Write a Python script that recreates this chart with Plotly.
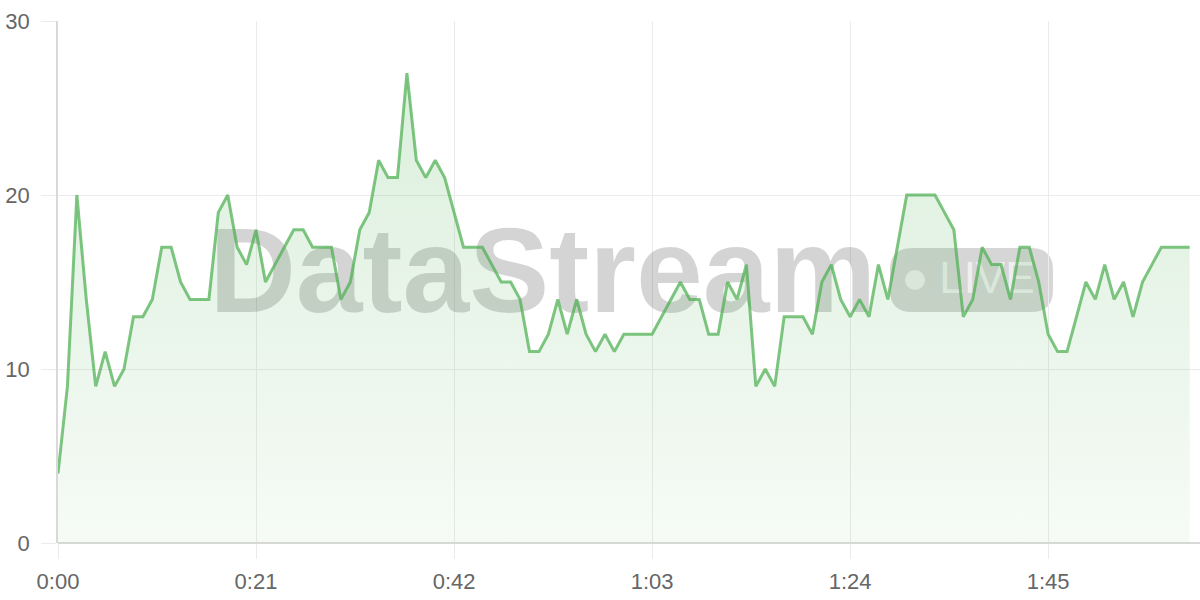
import plotly.graph_objects as go

# Per-second values (0:00 .. 2:00)
seconds = list(range(121))
values = [
    4, 9, 20, 14, 9, 11, 9, 10, 13, 13,
    14, 17, 17, 15, 14, 14, 14, 19, 20, 17,
    16, 18, 15, 16, 17, 18, 18, 17, 17, 17,
    14, 15, 18, 19, 22, 21, 21, 27, 22, 21,
    22, 21, 19, 17, 17, 17, 16, 15, 15, 14,
    11, 11, 12, 14, 12, 14, 12, 11, 12, 11,
    12, 12, 12, 12, 13, 14, 15, 14, 14, 12,
    12, 15, 14, 16, 9, 10, 9, 13, 13, 13,
    12, 15, 16, 14, 13, 14, 13, 16, 14, 17,
    20, 20, 20, 20, 19, 18, 13, 14, 17, 16,
    16, 14, 17, 17, 15, 12, 11, 11, 13, 15,
    14, 16, 14, 15, 13, 15, 16, 17, 17, 17,
    17,
]
x_ticks = [0, 21, 42, 63, 84, 105]
x_tick_labels = [f"{s // 60}:{s % 60:02d}" for s in x_ticks]
y_ticks = [0, 10, 20, 30]

GREEN_LINE = "rgba(76,175,80,0.72)"
GRID = "#ebebeb"
AXIS = "#d9d9d9"
FONT = "Liberation Sans"

fig = go.Figure()

# watermark (drawn first so the series sits on top of it)
fig.add_trace(go.Scatter(
    x=[51.4], y=[15.0], mode="text",
    text=["<b>DataStream</b>"],
    textfont=dict(family=FONT, size=120, color="rgba(0,0,0,0.17)"),
    hoverinfo="skip", showlegend=False,
))
fig.add_trace(go.Scatter(
    x=[98.5], y=[15.0], mode="text",
    text=["LIVE"],
    textfont=dict(family=FONT, size=44, color="rgba(255,255,255,0.65)"),
    hoverinfo="skip", showlegend=False,
))

fig.add_trace(go.Scatter(
    x=seconds, y=values,
    mode="lines",
    line=dict(color=GREEN_LINE, width=3),
    fill="tozeroy",
    fillgradient=dict(
        type="vertical",
        start=0, stop=27,
        colorscale=[[0, "rgba(76,175,80,0.05)"], [1, "rgba(76,175,80,0.2)"]],
    ),
    hovertemplate="%{x}s: %{y}<extra></extra>",
    showlegend=False,
))

# pill badge behind "LIVE"
px0, px1, py0, py1 = 0.7285, 0.8713, 0.4425, 0.5651
rx, ry = 22 / 1142, 22 / 522
pill = (f"M {px0+rx},{py0} L {px1-rx},{py0} Q {px1},{py0} {px1},{py0+ry} "
        f"L {px1},{py1-ry} Q {px1},{py1} {px1-rx},{py1} L {px0+rx},{py1} "
        f"Q {px0},{py1} {px0},{py1-ry} L {px0},{py0+ry} Q {px0},{py0} {px0+rx},{py0} Z")
fig.add_shape(type="path", path=pill, xref="paper", yref="paper",
              fillcolor="rgba(0,0,0,0.16)", line=dict(width=0), layer="below")
cx, cy, r = (915 - 58) / 1142, (543 - 280) / 522, 10
fig.add_shape(type="circle", xref="paper", yref="paper",
              x0=cx - r / 1142, x1=cx + r / 1142, y0=cy - r / 522, y1=cy + r / 522,
              fillcolor="rgba(255,255,255,0.6)", line=dict(width=0), layer="below")

fig.update_layout(
    width=1200, height=600,
    margin=dict(l=58, r=0, t=21, b=57),
    plot_bgcolor="white", paper_bgcolor="white",
    font=dict(family=FONT, size=22, color="#666666"),
    showlegend=False,
)
fig.update_xaxes(
    range=[0, 121.1], tickvals=x_ticks, ticktext=x_tick_labels,
    showgrid=True, gridcolor=GRID, gridwidth=1,
    ticks="outside", ticklen=15, tickcolor=GRID, tickwidth=1,
    showline=False, zeroline=False, ticklabelstandoff=4, automargin=False,
)
fig.update_yaxes(
    range=[0, 30], tickvals=y_ticks,
    showgrid=True, gridcolor=GRID, gridwidth=1,
    ticks="outside", ticklen=15, tickcolor=GRID, tickwidth=1,
    showline=True, linecolor=AXIS, linewidth=1.5,
    zeroline=True, zerolinecolor=AXIS, zerolinewidth=1.5,
    ticklabelstandoff=7, automargin=False,
)

# drop the default body margin so the figure fills the window
fig.write_html("out.html", config={"displayModeBar": False},
               post_script="document.body.style.margin='0';")
